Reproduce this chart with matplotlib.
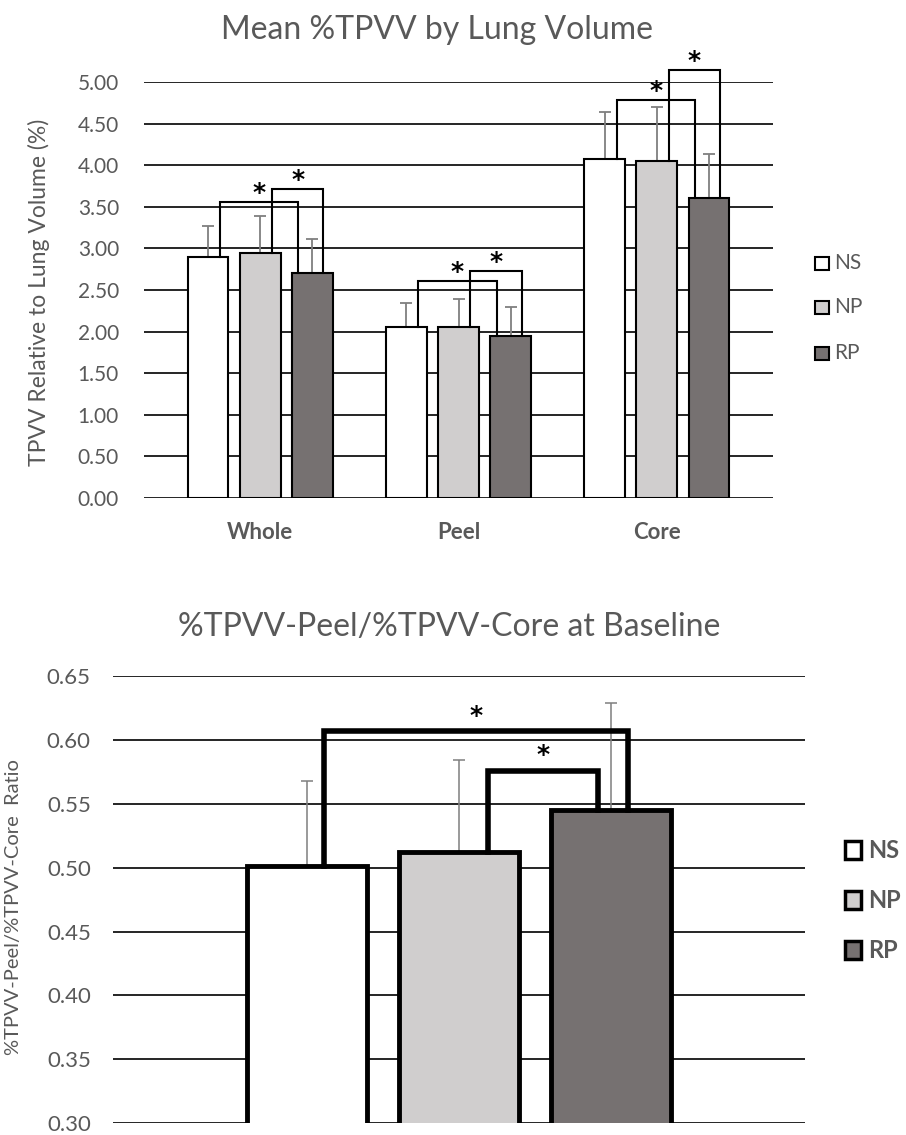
import matplotlib
matplotlib.use("Agg")
import matplotlib.pyplot as plt
from matplotlib.patches import Rectangle
import numpy as np

plt.rcParams['font.family'] = ['Lato', 'DejaVu Sans']

# ---- data -------------------------------------------------------------
groups = ["NS", "NP", "RP"]
colors = ["#ffffff", "#d0cece", "#767171"]

regions = ["Whole", "Peel", "Core"]
tpvv_mean = {
    "NS": [2.90, 2.05, 4.07],
    "NP": [2.95, 2.05, 4.05],
    "RP": [2.71, 1.95, 3.61],
}
tpvv_sd = {
    "NS": [0.37, 0.29, 0.57],
    "NP": [0.44, 0.34, 0.65],
    "RP": [0.40, 0.34, 0.53],
}
# significance bracket heights (pairs NS-RP and NP-RP) per region
tpvv_sig_ns_rp = [3.56, 2.61, 4.78]
tpvv_sig_np_rp = [3.71, 2.73, 5.14]
tpvv_ticks = [0.0, 0.5, 1.0, 1.5, 2.0, 2.5, 3.0, 3.5, 4.0, 4.5, 5.0]

ratio_mean = [0.501, 0.512, 0.545]
ratio_sd = [0.067, 0.072, 0.084]
ratio_sig_ns_rp = 0.607
ratio_sig_np_rp = 0.576
ratio_ticks = [0.30, 0.35, 0.40, 0.45, 0.50, 0.55, 0.60, 0.65]

text_gray = "#595959"
err_gray = "#7f7f7f"

fig = plt.figure(figsize=(9.06, 11.35), dpi=100)

# ---- top panel: mean %TPVV by region ---------------------------------
ax1 = fig.add_axes([144 / 906, 1 - 498 / 1135, 629 / 906, 416 / 1135])
bw = 0.205
step = 0.263
x = np.arange(len(regions))
for gi, g in enumerate(groups):
    xs = x + (gi - 1) * step
    ax1.bar(xs, tpvv_mean[g], width=bw, color=colors[gi], edgecolor="black",
            linewidth=1.5, zorder=3)
    ax1.errorbar(xs, tpvv_mean[g], yerr=[np.zeros(3), tpvv_sd[g]], fmt="none",
                 ecolor=err_gray, elinewidth=1.3, capsize=4.5, capthick=1.3, zorder=2)

ax1.set_ylim(0, 5)
ax1.set_xlim(-0.586, 2.586)
ax1.set_yticks(tpvv_ticks)
ax1.set_yticklabels([f"{t:.2f}" for t in tpvv_ticks])
ax1.yaxis.grid(True, color="black", linewidth=1.2, zorder=0)
ax1.set_axisbelow(True)
for s in ax1.spines.values():
    s.set_visible(False)
ax1.tick_params(axis="y", length=0, labelsize=15, labelcolor=text_gray, pad=18)
ax1.set_xticks(x)
ax1.set_xticklabels(regions, fontweight="bold")
ax1.tick_params(axis="x", length=0, labelsize=16, labelcolor=text_gray, pad=17)
ax1.set_ylabel("TPVV Relative to Lung Volume (%)", color=text_gray, fontsize=16.5)
ax1.yaxis.set_label_coords(-0.149, 0.495)


def bracket(ax, x0, y0, x1, y1, top, lw, star_dy, star_size):
    ax.plot([x0, x0, x1, x1], [y0, top, top, y1], color="black", lw=lw,
            solid_joinstyle="miter", zorder=4, clip_on=False)
    ax.text((x0 + x1) / 2, top + star_dy, "*", ha="center", va="center",
            fontsize=star_size, fontweight="bold", color="black",
            family="DejaVu Sans", clip_on=False)


for i in range(len(regions)):
    ns_x = x[i] - step
    np_x = x[i]
    rp_x = x[i] + step
    bracket(ax1, ns_x + 0.06, tpvv_mean["NS"][i], rp_x - 0.07,
            tpvv_mean["RP"][i], tpvv_sig_ns_rp[i], 1.5, 0.11, 18)
    bracket(ax1, np_x + 0.06, tpvv_mean["NP"][i], rp_x + 0.055,
            tpvv_mean["RP"][i], tpvv_sig_np_rp[i], 1.5, 0.11, 18)

# ---- bottom panel: peel/core ratio -----------------------------------
ax2 = fig.add_axes([113 / 906, 1 - 1123.3 / 1135, 692 / 906, 447.3 / 1135])
xb = np.array([-1.0, 0.0, 1.0])
ax2.bar(xb, ratio_mean, width=0.79, color=colors, edgecolor="black",
        linewidth=3.5, zorder=3)
ax2.errorbar(xb, ratio_mean, yerr=[np.zeros(3), ratio_sd], fmt="none",
             ecolor=err_gray, elinewidth=1.1, capsize=4, capthick=1.1, zorder=2)
ax2.set_ylim(0.30, 0.65)
ax2.set_xlim(-2.276, 2.276)
ax2.set_yticks(ratio_ticks)
ax2.set_yticklabels([f"{t:.2f}" for t in ratio_ticks])
ax2.yaxis.grid(True, color="black", linewidth=1.2, zorder=0)
ax2.set_axisbelow(True)
for s in ax2.spines.values():
    s.set_visible(False)
ax2.set_xticks([])
ax2.tick_params(axis="y", length=0, labelsize=16, labelcolor=text_gray, pad=16)
ax2.set_ylabel("%TPVV-Peel/%TPVV-Core  Ratio", color=text_gray, fontsize=14.5)
ax2.yaxis.set_label_coords(-0.132, 0.484)

bracket(ax2, xb[0] + 0.11, ratio_mean[0], xb[2] + 0.11, ratio_mean[2],
        ratio_sig_ns_rp, 4, 0.012, 18)
bracket(ax2, xb[1] + 0.19, ratio_mean[1], xb[2] - 0.085, ratio_mean[2],
        ratio_sig_np_rp, 4, 0.012, 18)

# ---- titles -----------------------------------------------------------
fig.text(437 / 906, 1 - 30 / 1135, "Mean %TPVV by Lung Volume", ha="center",
         va="center", fontsize=23, color=text_gray)
fig.text(449 / 906, 1 - 627 / 1135, "%TPVV-Peel/%TPVV-Core at Baseline",
         ha="center", va="center", fontsize=23, color=text_gray)

# ---- legends ----------------------------------------------------------
top_leg_y = [263, 307, 353]
for gi, g in enumerate(groups):
    fig.patches.append(Rectangle((815 / 906, 1 - (top_leg_y[gi] + 6.5) / 1135),
                                 14 / 906, 13 / 1135, transform=fig.transFigure,
                                 facecolor=colors[gi], edgecolor="black",
                                 linewidth=1.5))
    fig.text(834 / 906, 1 - top_leg_y[gi] / 1135, g, ha="left", va="center",
             fontsize=15, color=text_gray)

bot_leg_y = [850, 900, 950]
for gi, g in enumerate(groups):
    fig.patches.append(Rectangle((845 / 906, 1 - (bot_leg_y[gi] + 9) / 1135),
                                 16 / 906, 18 / 1135, transform=fig.transFigure,
                                 facecolor=colors[gi], edgecolor="black",
                                 linewidth=2.5))
    fig.text(868 / 906, 1 - bot_leg_y[gi] / 1135, g, ha="left", va="center",
             fontsize=17, fontweight="bold", color=text_gray)

fig.savefig("out.png", dpi=100, facecolor="white")
